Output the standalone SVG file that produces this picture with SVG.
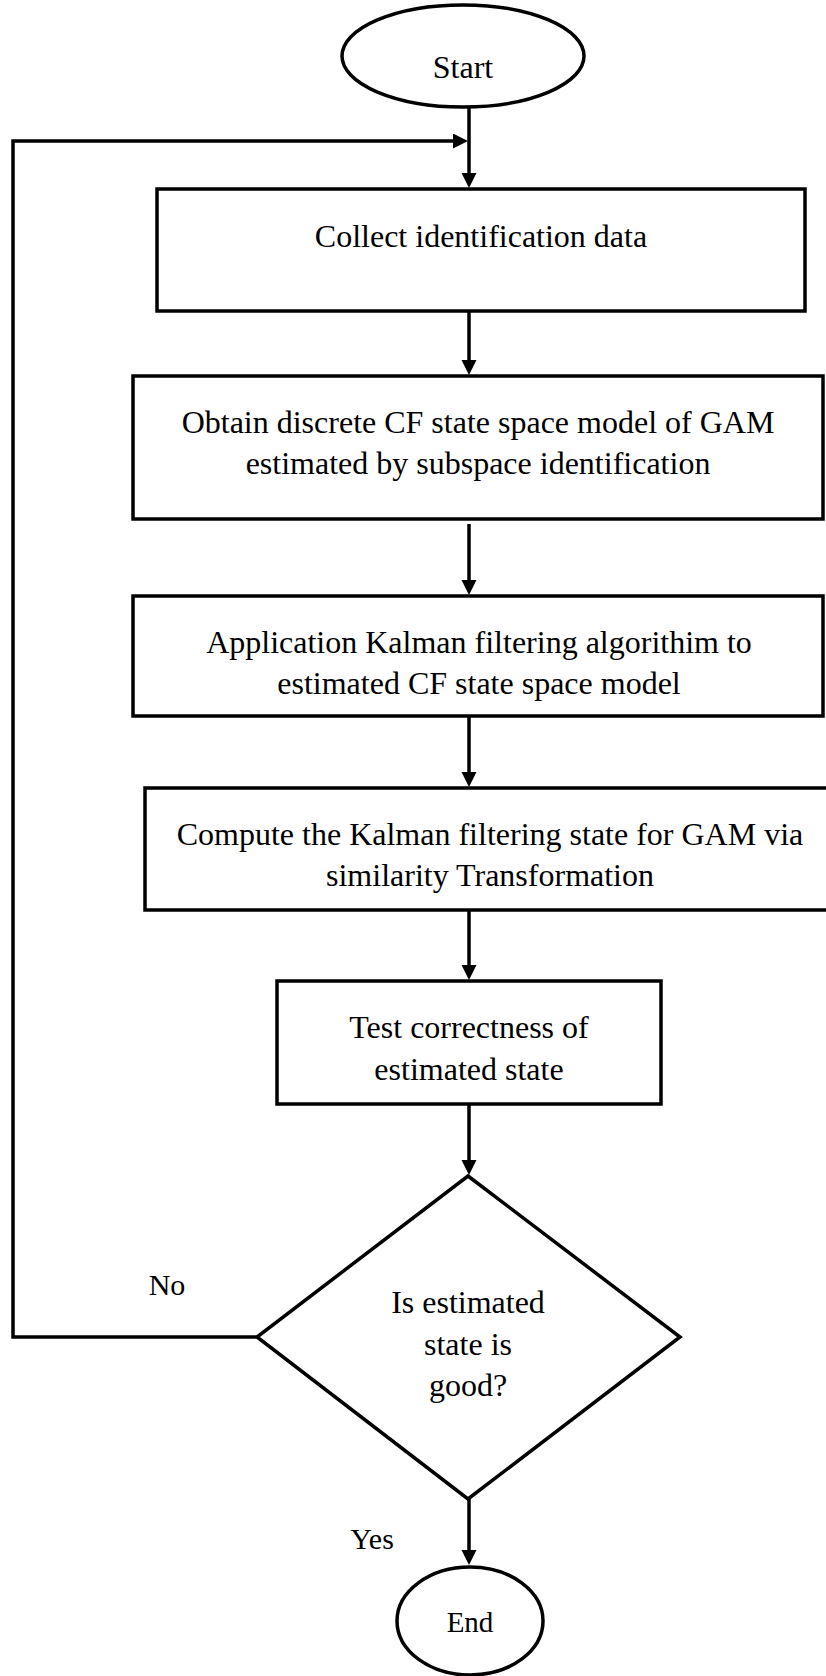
<svg xmlns="http://www.w3.org/2000/svg" width="826" height="1676" viewBox="0 0 826 1676">
  <style>
    .shape { fill: #ffffff; stroke: #000000; stroke-width: 3.5; }
    .wire { fill: none; stroke: #000000; stroke-width: 3.5; }
    .label { font-family: "Liberation Serif", "Times New Roman", serif; font-size: 32px; fill: #000000; text-anchor: middle; }
    .small { font-size: 30px; }
    .end { font-size: 29px; }
  </style>
  <defs>
    <marker id="arrow" markerUnits="userSpaceOnUse" markerWidth="16" markerHeight="16" refX="5" refY="7.5" orient="auto">
      <path d="M0,0 L15,7.5 L0,15 Z" fill="#000000"/>
    </marker>
  </defs>

  <rect width="826" height="1676" fill="#ffffff"/>

  <!-- connectors -->
  <g id="connectors">
    <line class="wire" x1="469" y1="107" x2="469" y2="178" marker-end="url(#arrow)"/>
    <polyline class="wire" points="257,1337 13,1337 13,141 458,141" marker-end="url(#arrow)"/>
    <line class="wire" x1="469" y1="311" x2="469" y2="365" marker-end="url(#arrow)"/>
    <line class="wire" x1="469" y1="524" x2="469" y2="585" marker-end="url(#arrow)"/>
    <line class="wire" x1="469" y1="716" x2="469" y2="777" marker-end="url(#arrow)"/>
    <line class="wire" x1="469" y1="910" x2="469" y2="970" marker-end="url(#arrow)"/>
    <line class="wire" x1="469" y1="1104" x2="469" y2="1165" marker-end="url(#arrow)"/>
    <line class="wire" x1="469" y1="1499" x2="469" y2="1555" marker-end="url(#arrow)"/>
    <text class="label small" x="167" y="1295">No</text>
    <text class="label small" x="372" y="1549">Yes</text>
  </g>

  <!-- start terminal -->
  <g id="start">
    <ellipse class="shape" cx="463" cy="56" rx="121" ry="51"/>
    <text class="label" x="463" y="78">Start</text>
  </g>

  <!-- step 1 -->
  <g id="collect">
    <rect class="shape" x="157" y="189" width="648" height="122"/>
    <text class="label" x="481" y="247">Collect identification data</text>
  </g>

  <!-- step 2 -->
  <g id="obtain">
    <rect class="shape" x="133" y="376" width="690" height="143"/>
    <text class="label" x="478" y="433">Obtain discrete CF state space model of GAM</text>
    <text class="label" x="478" y="474">estimated by subspace identification</text>
  </g>

  <!-- step 3 -->
  <g id="kalman">
    <rect class="shape" x="133" y="596" width="690" height="120"/>
    <text class="label" x="479" y="653">Application Kalman filtering algorithim to</text>
    <text class="label" x="479" y="694">estimated CF state space model</text>
  </g>

  <!-- step 4 -->
  <g id="compute">
    <rect class="shape" x="145" y="788" width="700" height="122"/>
    <text class="label" x="490" y="845">Compute the Kalman filtering state for GAM via</text>
    <text class="label" x="490" y="886">similarity Transformation</text>
  </g>

  <!-- step 5 -->
  <g id="test">
    <rect class="shape" x="277" y="981" width="384" height="123"/>
    <text class="label" x="469" y="1038">Test correctness of</text>
    <text class="label" x="469" y="1080">estimated state</text>
  </g>

  <!-- decision -->
  <g id="decision">
    <polygon class="shape" points="468,1176 680,1337 468,1499 257,1337"/>
    <text class="label" x="468" y="1313">Is estimated</text>
    <text class="label" x="468" y="1355">state is</text>
    <text class="label" x="468" y="1396">good?</text>
  </g>

  <!-- end terminal -->
  <g id="end">
    <ellipse class="shape" cx="470" cy="1621" rx="73" ry="54"/>
    <text class="label end" x="470" y="1632">End</text>
  </g>
</svg>
